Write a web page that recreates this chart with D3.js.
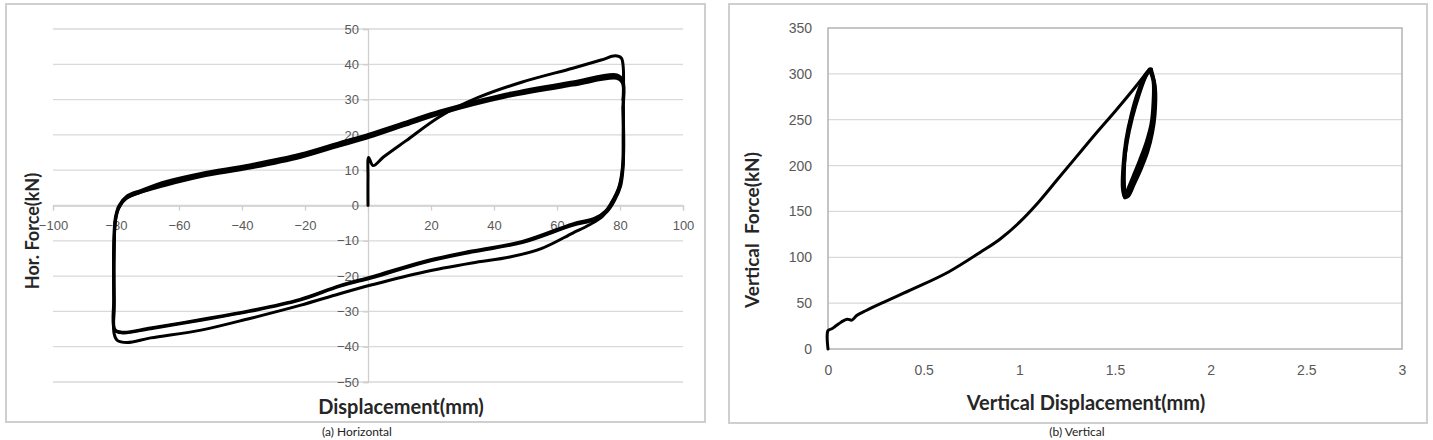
<!DOCTYPE html>
<html>
<head>
<meta charset="utf-8">
<script src="https://cdn.jsdelivr.net/npm/d3@7"></script>
<style>
  body { margin: 0; background: #fff; overflow: hidden; }
  svg { display: block; font-family: Lato, "Open Sans", sans-serif; }
  .tick text { fill: #595959; font-size: 13px; }
  .label { font-weight: bold; fill: #262626; }
</style>
</head>
<body>
<svg class="figure" width="1433" height="440"></svg>
<script>
// ---- (a) horizontal: displacement (mm) vs force (kN)
var horXTicks = [-100, -80, -60, -40, -20, 0, 20, 40, 60, 80, 100];
var horYTicks = [-50, -40, -30, -20, -10, 0, 10, 20, 30, 40, 50];

// first loading from rest
var horVirgin = [[0, 0], [0, 8], [0.2, 13.6], [1.6, 11.3], [5, 13.8], [12, 18.3], [23, 25.3], [35, 30.6],
  [49, 35], [65, 38.9], [74, 41.2], [78.5, 42.4], [80.4, 41.8], [81, 39.5], [81, 30]];
// cycle 1 : unloading (outer lower branch) and reloading
var horCycle1 = [[81, 30], [81, 20], [80.8, 11], [79.6, 5], [77.6, 1], [74.5, -3], [70, -5.6], [65, -7.8], [55, -12.2],
  [45, -14.6], [33, -16.3], [17.5, -18.9], [1.6, -22.4], [-9, -25], [-21.6, -28.3], [-37.5, -32],
  [-53, -35.3], [-69, -37.5], [-76.5, -38.8], [-79.6, -38.2], [-80.6, -36.3], [-80.6, -28], [-80.6, -15],
  [-80.3, -5], [-79.5, -1.4], [-77.5, 1.5], [-74.5, 3], [-64, 5.8], [-53, 8.2], [-37.5, 10.6],
  [-21.6, 13.6], [-9, 16.9], [0.6, 19.4], [12, 22.8], [22.9, 26], [44, 30.8], [65, 34.1], [79, 36], [80.7, 34.8], [81, 28]];
// cycle 2 : inner lower branch and reloading
var horCycle2 = [[81, 28], [81, 12], [80, 6], [78, 2], [75.5, -1.5], [72, -3.6], [65, -5.2], [49, -10.2],
  [33, -12.9], [17.5, -15.9], [1.6, -20.1], [-9, -22.7], [-21.6, -26.6], [-37.5, -29.8], [-53, -32.3],
  [-69, -34.7], [-77.8, -35.9], [-80.3, -35.2], [-80.6, -28], [-80.6, -12], [-80.1, -4], [-79, -0.5],
  [-76.5, 2.2], [-72, 3.8], [-64, 6.3], [-53, 8.6], [-37.5, 11], [-21.6, 14], [-9, 17.4], [0.6, 19.9],
  [12, 23.2], [22.9, 26.4], [44, 31.2], [65, 34.6], [79, 36.6], [80.8, 35.2], [81, 28]];
// cycle 3 : repeat, nearly on top of cycle 2
var horCycle3 = [[81, 28], [81, 11], [80.2, 5.5], [78.3, 1.5], [75.8, -1.8], [72, -4], [65, -5.6], [49, -10.5],
  [33, -13.2], [17.5, -16.2], [1.6, -20.4], [-9, -22.9], [-21.6, -26.8], [-37.5, -30], [-53, -32.5],
  [-69, -34.9], [-77.8, -36.1], [-80.4, -35.4], [-80.7, -26], [-80.7, -10], [-80.2, -3.5], [-79, 0],
  [-76.5, 2.7], [-72, 4.3], [-64, 6.8], [-53, 9.1], [-37.5, 11.5], [-21.6, 14.5], [-9, 17.8], [0.6, 20.3],
  [12, 23.6], [22.9, 26.8], [44, 31.6], [65, 35], [79, 37], [80.9, 35.5], [81, 30]];

// ---- (b) vertical: displacement (mm) vs force (kN)
var vertXTicks = [0, 0.5, 1, 1.5, 2, 2.5, 3];
var vertYTicks = [0, 50, 100, 150, 200, 250, 300, 350];

var vertLoad = [[0, 0], [0, 20], [0.02, 22], [0.04, 25], [0.07, 29.5], [0.1, 32.5], [0.125, 31.5], [0.15, 36.5],
  [0.2, 42], [0.28, 50], [0.45, 66], [0.63, 84], [0.8, 106], [0.9, 120], [1, 138], [1.1, 160],
  [1.2, 185], [1.3, 210], [1.4, 235], [1.5, 259], [1.6, 284], [1.68, 305]];
var vertLoop1 = [[1.68, 305], [1.7, 292], [1.7, 268], [1.69, 246], [1.665, 226], [1.63, 206], [1.595, 188],
  [1.565, 173], [1.55, 166], [1.543, 178], [1.548, 202], [1.563, 226], [1.59, 252], [1.625, 277],
  [1.66, 297], [1.685, 305]];
var vertLoop2 = [[1.685, 305], [1.705, 290], [1.705, 262], [1.692, 240], [1.665, 220], [1.628, 200],
  [1.592, 182], [1.565, 168], [1.552, 165], [1.54, 175], [1.543, 200], [1.558, 228], [1.585, 255],
  [1.62, 280], [1.662, 300], [1.69, 304]];
var vertLoop3 = [[1.69, 304], [1.71, 285], [1.708, 255], [1.695, 236], [1.67, 215], [1.635, 196],
  [1.6, 180], [1.57, 167], [1.555, 166], [1.548, 180], [1.552, 210], [1.57, 238], [1.598, 262],
  [1.635, 286], [1.67, 302], [1.69, 305]];

var svg = d3.select("svg.figure");

// panel frames
[[6, 4, 699, 418], [729, 4, 698, 419]].forEach(function (p) {
  svg.append("rect")
    .attr("x", p[0]).attr("y", p[1]).attr("width", p[2]).attr("height", p[3])
    .attr("fill", "none").attr("stroke", "#cfcfcf").attr("stroke-width", 2);
});

var drawCurve = function (g, x, y, pts, w) {
  var line = d3.line()
    .x(function (d) { return x(d[0]); })
    .y(function (d) { return y(d[1]); })
    .curve(d3.curveCatmullRom.alpha(0.5));
  g.append("path")
    .datum(pts)
    .attr("d", line)
    .attr("fill", "none")
    .attr("stroke", "#000")
    .attr("stroke-width", w)
    .attr("stroke-linejoin", "round")
    .attr("stroke-linecap", "round");
};

// ================= (a) =================
var xa = d3.scaleLinear().domain([-100, 100]).range([53, 683]);
var ya = d3.scaleLinear().domain([-50, 50]).range([382, 29]);
var ga = svg.append("g");

ga.selectAll(".grid")
  .data(horYTicks)
  .enter().append("line")
    .attr("x1", xa(-100)).attr("x2", xa(100))
    .attr("y1", function (d) { return ya(d); })
    .attr("y2", function (d) { return ya(d); })
    .attr("stroke", "#d9d9d9").attr("stroke-width", 1.3);

var axA = ga.append("g")
    .attr("transform", "translate(0," + ya(0) + ")")
    .call(d3.axisBottom(xa).tickValues(horXTicks).tickSize(5).tickPadding(10).tickFormat(d3.format("d")));
var ayA = ga.append("g")
    .attr("transform", "translate(" + xa(0) + ",0)")
    .call(d3.axisLeft(ya).tickValues(horYTicks).tickSize(5).tickPadding(4).tickFormat(d3.format("d")));
[axA, ayA].forEach(function (a) {
  a.select(".domain").attr("stroke", "#cfcfcf").attr("stroke-width", 1.3);
  a.selectAll(".tick line").attr("stroke", "#cfcfcf").attr("stroke-width", 1.3);
  a.selectAll(".tick text").attr("fill", "#595959").style("font-size", "13px");
});
axA.selectAll(".tick text").filter(function (d) { return d === 0; }).attr("opacity", 0);

drawCurve(ga, xa, ya, horVirgin, 3);
drawCurve(ga, xa, ya, horCycle1, 3);
drawCurve(ga, xa, ya, horCycle2, 3);
drawCurve(ga, xa, ya, horCycle3, 3);

ga.append("text")
  .attr("class", "label")
  .attr("text-anchor", "middle")
  .attr("transform", "translate(39,231) rotate(-90)")
  .style("font-size", "18px")
  .text("Hor. Force(kN)");

ga.append("text")
  .attr("class", "label")
  .attr("text-anchor", "middle")
  .attr("x", 401).attr("y", 414)
  .style("font-size", "20px")
  .text("Displacement(mm)");

ga.append("text")
  .attr("text-anchor", "middle")
  .attr("x", 357).attr("y", 436)
  .style("font-size", "12px").attr("fill", "#222")
  .text("(a) Horizontal");

// ================= (b) =================
var xb = d3.scaleLinear().domain([0, 3]).range([828, 1402]);
var yb = d3.scaleLinear().domain([0, 350]).range([349, 28]);
var gb = svg.append("g");

gb.selectAll(".grid")
  .data(vertYTicks.slice(1, -1))
  .enter().append("line")
    .attr("x1", xb(0)).attr("x2", xb(3))
    .attr("y1", function (d) { return yb(d); })
    .attr("y2", function (d) { return yb(d); })
    .attr("stroke", "#d9d9d9").attr("stroke-width", 1.3);

gb.append("rect")
  .attr("x", xb(0)).attr("y", yb(350))
  .attr("width", xb(3) - xb(0)).attr("height", yb(0) - yb(350))
  .attr("fill", "none").attr("stroke", "#b3b3b3").attr("stroke-width", 1.5);

var axB = gb.append("g")
    .attr("transform", "translate(0," + yb(0) + ")")
    .call(d3.axisBottom(xb).tickValues(vertXTicks).tickSize(0).tickPadding(16).tickFormat(d3.format("")));
var ayB = gb.append("g")
    .attr("transform", "translate(" + xb(0) + ",0)")
    .call(d3.axisLeft(yb).tickValues(vertYTicks).tickSize(0).tickPadding(16).tickFormat(d3.format("d")));
[axB, ayB].forEach(function (a) {
  a.select(".domain").remove();
  a.selectAll(".tick text").attr("fill", "#595959").style("font-size", "14px");
});

drawCurve(gb, xb, yb, vertLoad, 3);
drawCurve(gb, xb, yb, vertLoop1, 3.5);
drawCurve(gb, xb, yb, vertLoop2, 3.5);
drawCurve(gb, xb, yb, vertLoop3, 3.5);

gb.append("text")
  .attr("class", "label")
  .attr("text-anchor", "middle")
  .attr("transform", "translate(759,230) rotate(-90)")
  .style("font-size", "19px")
  .style("white-space", "pre")
  .text("Vertical  Force(kN)");

gb.append("text")
  .attr("class", "label")
  .attr("text-anchor", "middle")
  .attr("x", 1086).attr("y", 410)
  .style("font-size", "20px")
  .text("Vertical Displacement(mm)");

gb.append("text")
  .attr("text-anchor", "middle")
  .attr("x", 1077).attr("y", 436)
  .style("font-size", "12px").attr("fill", "#222")
  .text("(b) Vertical");
</script>
</body>
</html>
